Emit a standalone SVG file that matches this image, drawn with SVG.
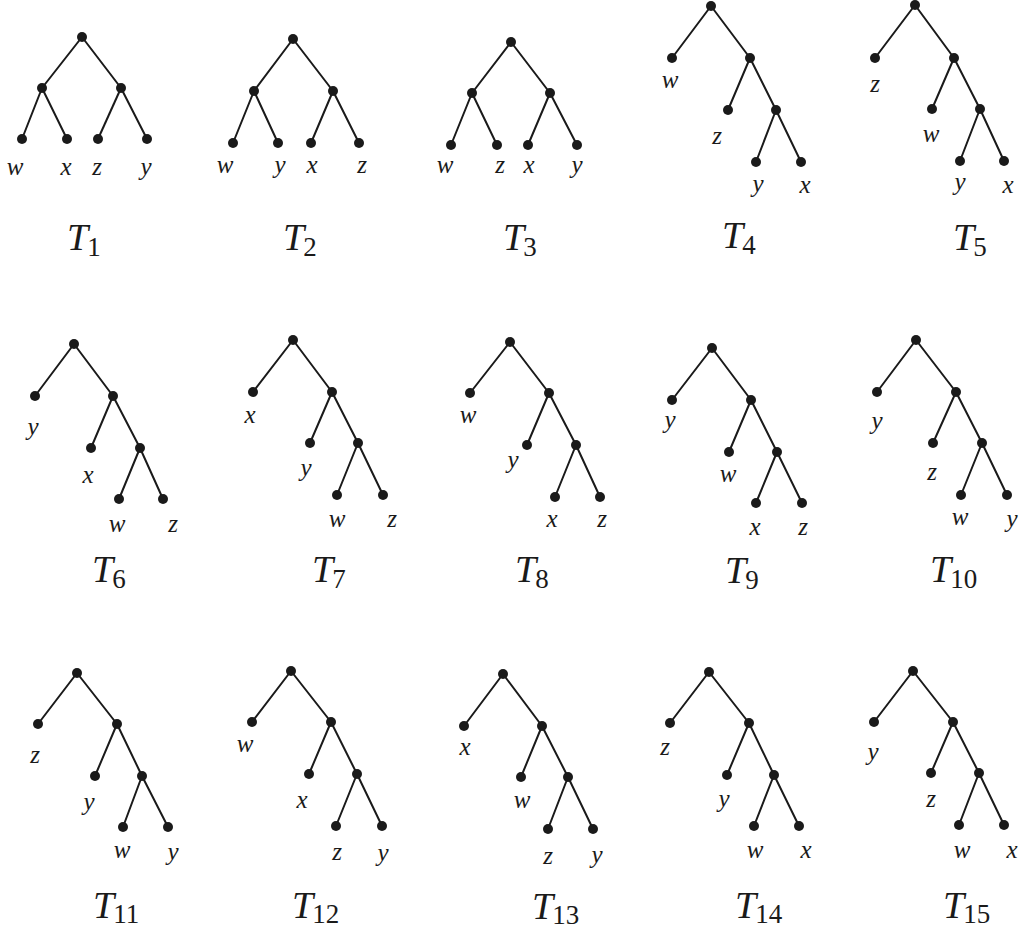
<svg xmlns="http://www.w3.org/2000/svg" width="1021" height="930" viewBox="0 0 1021 930">
<style>
.e line{stroke:#1a1a1a;stroke-width:2;stroke-linecap:round}
circle{fill:#1a1a1a}
.lb{font-family:'Liberation Serif','DejaVu Serif','Times New Roman',serif;font-style:italic;font-size:25px;fill:#1a1a1a;text-anchor:middle}
.tt{font-family:'Liberation Serif','DejaVu Serif','Times New Roman',serif;font-size:38px;fill:#1a1a1a}
.tt .T{font-style:italic}
.tt .s{font-size:27px;font-style:normal}
</style>
<rect width="1021" height="930" fill="#fff"/>
<g id="connectors" class="e">
<g id="T1-edges"><line x1="82" y1="37" x2="42" y2="88"/><line x1="82" y1="37" x2="121" y2="88"/><line x1="42" y1="88" x2="22" y2="139"/><line x1="42" y1="88" x2="67" y2="139"/><line x1="121" y1="88" x2="98" y2="139"/><line x1="121" y1="88" x2="147" y2="139"/></g>
<g id="T2-edges"><line x1="293" y1="39" x2="254" y2="91"/><line x1="293" y1="39" x2="333" y2="91"/><line x1="254" y1="91" x2="233" y2="143"/><line x1="254" y1="91" x2="278" y2="143"/><line x1="333" y1="91" x2="311" y2="143"/><line x1="333" y1="91" x2="359" y2="143"/></g>
<g id="T3-edges"><line x1="511" y1="42" x2="472" y2="93"/><line x1="511" y1="42" x2="550" y2="93"/><line x1="472" y1="93" x2="451" y2="145"/><line x1="472" y1="93" x2="497" y2="145"/><line x1="550" y1="93" x2="528" y2="145"/><line x1="550" y1="93" x2="577" y2="145"/></g>
<g id="T4-edges"><line x1="711" y1="6" x2="672" y2="58"/><line x1="711" y1="6" x2="750" y2="58"/><line x1="750" y1="58" x2="728" y2="110"/><line x1="750" y1="58" x2="776" y2="110"/><line x1="776" y1="110" x2="756" y2="162"/><line x1="776" y1="110" x2="801" y2="162"/></g>
<g id="T5-edges"><line x1="915" y1="5" x2="875" y2="58"/><line x1="915" y1="5" x2="954" y2="58"/><line x1="954" y1="58" x2="932" y2="109"/><line x1="954" y1="58" x2="980" y2="109"/><line x1="980" y1="109" x2="960" y2="161"/><line x1="980" y1="109" x2="1004" y2="161"/></g>
<g id="T6-edges"><line x1="74" y1="344" x2="35" y2="396"/><line x1="74" y1="344" x2="113" y2="396"/><line x1="113" y1="396" x2="91" y2="448"/><line x1="113" y1="396" x2="140" y2="448"/><line x1="140" y1="448" x2="119" y2="499"/><line x1="140" y1="448" x2="163" y2="499"/></g>
<g id="T7-edges"><line x1="293" y1="340" x2="253" y2="392"/><line x1="293" y1="340" x2="332" y2="392"/><line x1="332" y1="392" x2="310" y2="443"/><line x1="332" y1="392" x2="358" y2="443"/><line x1="358" y1="443" x2="337" y2="495"/><line x1="358" y1="443" x2="383" y2="495"/></g>
<g id="T8-edges"><line x1="510" y1="342" x2="470" y2="393"/><line x1="510" y1="342" x2="549" y2="393"/><line x1="549" y1="393" x2="527" y2="445"/><line x1="549" y1="393" x2="576" y2="445"/><line x1="576" y1="445" x2="555" y2="497"/><line x1="576" y1="445" x2="600" y2="497"/></g>
<g id="T9-edges"><line x1="712" y1="348" x2="672" y2="400"/><line x1="712" y1="348" x2="751" y2="400"/><line x1="751" y1="400" x2="729" y2="452"/><line x1="751" y1="400" x2="777" y2="452"/><line x1="777" y1="452" x2="756" y2="503"/><line x1="777" y1="452" x2="802" y2="503"/></g>
<g id="T10-edges"><line x1="916" y1="340" x2="877" y2="392"/><line x1="916" y1="340" x2="956" y2="392"/><line x1="956" y1="392" x2="933" y2="443"/><line x1="956" y1="392" x2="982" y2="443"/><line x1="982" y1="443" x2="961" y2="495"/><line x1="982" y1="443" x2="1007" y2="495"/></g>
<g id="T11-edges"><line x1="77" y1="673" x2="38" y2="724"/><line x1="77" y1="673" x2="117" y2="724"/><line x1="117" y1="724" x2="95" y2="776"/><line x1="117" y1="724" x2="142" y2="776"/><line x1="142" y1="776" x2="123" y2="827"/><line x1="142" y1="776" x2="168" y2="827"/></g>
<g id="T12-edges"><line x1="291" y1="671" x2="252" y2="722"/><line x1="291" y1="671" x2="331" y2="722"/><line x1="331" y1="722" x2="309" y2="774"/><line x1="331" y1="722" x2="357" y2="774"/><line x1="357" y1="774" x2="336" y2="826"/><line x1="357" y1="774" x2="382" y2="826"/></g>
<g id="T13-edges"><line x1="503" y1="674" x2="464" y2="726"/><line x1="503" y1="674" x2="542" y2="726"/><line x1="542" y1="726" x2="521" y2="777"/><line x1="542" y1="726" x2="568" y2="777"/><line x1="568" y1="777" x2="548" y2="829"/><line x1="568" y1="777" x2="593" y2="829"/></g>
<g id="T14-edges"><line x1="709" y1="672" x2="670" y2="723"/><line x1="709" y1="672" x2="749" y2="723"/><line x1="749" y1="723" x2="727" y2="775"/><line x1="749" y1="723" x2="774" y2="775"/><line x1="774" y1="775" x2="754" y2="826"/><line x1="774" y1="775" x2="799" y2="826"/></g>
<g id="T15-edges"><line x1="913" y1="671" x2="874" y2="722"/><line x1="913" y1="671" x2="953" y2="722"/><line x1="953" y1="722" x2="931" y2="773"/><line x1="953" y1="722" x2="979" y2="773"/><line x1="979" y1="773" x2="959" y2="825"/><line x1="979" y1="773" x2="1004" y2="825"/></g>
</g>

<g id="T1">
<g id="T1-root"><circle cx="82" cy="37" r="5"/></g>
<g id="T1-a"><circle cx="42" cy="88" r="5"/></g>
<g id="T1-b"><circle cx="121" cy="88" r="5"/></g>
<g id="T1-w"><circle cx="22" cy="139" r="5"/><text class="lb" x="15" y="175">w</text></g>
<g id="T1-x"><circle cx="67" cy="139" r="5"/><text class="lb" x="66" y="175">x</text></g>
<g id="T1-z"><circle cx="98" cy="139" r="5"/><text class="lb" x="97" y="175">z</text></g>
<g id="T1-y"><circle cx="147" cy="139" r="5"/><text class="lb" x="146" y="175">y</text></g>
<text class="tt" x="67" y="250"><tspan class="T">T</tspan><tspan class="s" dx="-1" dy="6">1</tspan></text>
</g>

<g id="T2">
<g id="T2-root"><circle cx="293" cy="39" r="5"/></g>
<g id="T2-a"><circle cx="254" cy="91" r="5"/></g>
<g id="T2-b"><circle cx="333" cy="91" r="5"/></g>
<g id="T2-w"><circle cx="233" cy="143" r="5"/><text class="lb" x="225" y="173">w</text></g>
<g id="T2-y"><circle cx="278" cy="143" r="5"/><text class="lb" x="280" y="173">y</text></g>
<g id="T2-x"><circle cx="311" cy="143" r="5"/><text class="lb" x="312" y="173">x</text></g>
<g id="T2-z"><circle cx="359" cy="143" r="5"/><text class="lb" x="362" y="173">z</text></g>
<text class="tt" x="283" y="250"><tspan class="T">T</tspan><tspan class="s" dx="-1" dy="6">2</tspan></text>
</g>

<g id="T3">
<g id="T3-root"><circle cx="511" cy="42" r="5"/></g>
<g id="T3-a"><circle cx="472" cy="93" r="5"/></g>
<g id="T3-b"><circle cx="550" cy="93" r="5"/></g>
<g id="T3-w"><circle cx="451" cy="145" r="5"/><text class="lb" x="445" y="173">w</text></g>
<g id="T3-z"><circle cx="497" cy="145" r="5"/><text class="lb" x="500" y="173">z</text></g>
<g id="T3-x"><circle cx="528" cy="145" r="5"/><text class="lb" x="529" y="173">x</text></g>
<g id="T3-y"><circle cx="577" cy="145" r="5"/><text class="lb" x="577" y="173">y</text></g>
<text class="tt" x="503" y="250"><tspan class="T">T</tspan><tspan class="s" dx="-1" dy="6">3</tspan></text>
</g>

<g id="T4">
<g id="T4-root"><circle cx="711" cy="6" r="5"/></g>
<g id="T4-i1"><circle cx="750" cy="58" r="5"/></g>
<g id="T4-i2"><circle cx="776" cy="110" r="5"/></g>
<g id="T4-w"><circle cx="672" cy="58" r="5"/><text class="lb" x="670" y="88">w</text></g>
<g id="T4-z"><circle cx="728" cy="110" r="5"/><text class="lb" x="717" y="144">z</text></g>
<g id="T4-y"><circle cx="756" cy="162" r="5"/><text class="lb" x="758" y="192">y</text></g>
<g id="T4-x"><circle cx="801" cy="162" r="5"/><text class="lb" x="805" y="193">x</text></g>
<text class="tt" x="722" y="248"><tspan class="T">T</tspan><tspan class="s" dx="-1" dy="6">4</tspan></text>
</g>

<g id="T5">
<g id="T5-root"><circle cx="915" cy="5" r="5"/></g>
<g id="T5-i1"><circle cx="954" cy="58" r="5"/></g>
<g id="T5-i2"><circle cx="980" cy="109" r="5"/></g>
<g id="T5-z"><circle cx="875" cy="58" r="5"/><text class="lb" x="875" y="92">z</text></g>
<g id="T5-w"><circle cx="932" cy="109" r="5"/><text class="lb" x="931" y="142">w</text></g>
<g id="T5-y"><circle cx="960" cy="161" r="5"/><text class="lb" x="960" y="190">y</text></g>
<g id="T5-x"><circle cx="1004" cy="161" r="5"/><text class="lb" x="1008" y="193">x</text></g>
<text class="tt" x="953" y="250"><tspan class="T">T</tspan><tspan class="s" dx="-1" dy="6">5</tspan></text>
</g>

<g id="T6">
<g id="T6-root"><circle cx="74" cy="344" r="5"/></g>
<g id="T6-i1"><circle cx="113" cy="396" r="5"/></g>
<g id="T6-i2"><circle cx="140" cy="448" r="5"/></g>
<g id="T6-y"><circle cx="35" cy="396" r="5"/><text class="lb" x="33" y="435">y</text></g>
<g id="T6-x"><circle cx="91" cy="448" r="5"/><text class="lb" x="88" y="483">x</text></g>
<g id="T6-w"><circle cx="119" cy="499" r="5"/><text class="lb" x="117" y="532">w</text></g>
<g id="T6-z"><circle cx="163" cy="499" r="5"/><text class="lb" x="173" y="532">z</text></g>
<text class="tt" x="92" y="582"><tspan class="T">T</tspan><tspan class="s" dx="-1" dy="6">6</tspan></text>
</g>

<g id="T7">
<g id="T7-root"><circle cx="293" cy="340" r="5"/></g>
<g id="T7-i1"><circle cx="332" cy="392" r="5"/></g>
<g id="T7-i2"><circle cx="358" cy="443" r="5"/></g>
<g id="T7-x"><circle cx="253" cy="392" r="5"/><text class="lb" x="250" y="423">x</text></g>
<g id="T7-y"><circle cx="310" cy="443" r="5"/><text class="lb" x="306" y="476">y</text></g>
<g id="T7-w"><circle cx="337" cy="495" r="5"/><text class="lb" x="337" y="527">w</text></g>
<g id="T7-z"><circle cx="383" cy="495" r="5"/><text class="lb" x="392" y="527">z</text></g>
<text class="tt" x="312" y="582"><tspan class="T">T</tspan><tspan class="s" dx="-1" dy="6">7</tspan></text>
</g>

<g id="T8">
<g id="T8-root"><circle cx="510" cy="342" r="5"/></g>
<g id="T8-i1"><circle cx="549" cy="393" r="5"/></g>
<g id="T8-i2"><circle cx="576" cy="445" r="5"/></g>
<g id="T8-w"><circle cx="470" cy="393" r="5"/><text class="lb" x="468" y="423">w</text></g>
<g id="T8-y"><circle cx="527" cy="445" r="5"/><text class="lb" x="513" y="468">y</text></g>
<g id="T8-x"><circle cx="555" cy="497" r="5"/><text class="lb" x="552" y="527">x</text></g>
<g id="T8-z"><circle cx="600" cy="497" r="5"/><text class="lb" x="602" y="527">z</text></g>
<text class="tt" x="515" y="582"><tspan class="T">T</tspan><tspan class="s" dx="-1" dy="6">8</tspan></text>
</g>

<g id="T9">
<g id="T9-root"><circle cx="712" cy="348" r="5"/></g>
<g id="T9-i1"><circle cx="751" cy="400" r="5"/></g>
<g id="T9-i2"><circle cx="777" cy="452" r="5"/></g>
<g id="T9-y"><circle cx="672" cy="400" r="5"/><text class="lb" x="670" y="428">y</text></g>
<g id="T9-w"><circle cx="729" cy="452" r="5"/><text class="lb" x="728" y="482">w</text></g>
<g id="T9-x"><circle cx="756" cy="503" r="5"/><text class="lb" x="755" y="535">x</text></g>
<g id="T9-z"><circle cx="802" cy="503" r="5"/><text class="lb" x="803" y="535">z</text></g>
<text class="tt" x="725" y="583"><tspan class="T">T</tspan><tspan class="s" dx="-1" dy="6">9</tspan></text>
</g>

<g id="T10">
<g id="T10-root"><circle cx="916" cy="340" r="5"/></g>
<g id="T10-i1"><circle cx="956" cy="392" r="5"/></g>
<g id="T10-i2"><circle cx="982" cy="443" r="5"/></g>
<g id="T10-y1"><circle cx="877" cy="392" r="5"/><text class="lb" x="877" y="429">y</text></g>
<g id="T10-z"><circle cx="933" cy="443" r="5"/><text class="lb" x="932" y="480">z</text></g>
<g id="T10-w"><circle cx="961" cy="495" r="5"/><text class="lb" x="960" y="525">w</text></g>
<g id="T10-y2"><circle cx="1007" cy="495" r="5"/><text class="lb" x="1012" y="527">y</text></g>
<text class="tt" x="930" y="582"><tspan class="T">T</tspan><tspan class="s" dx="-1" dy="6">10</tspan></text>
</g>

<g id="T11">
<g id="T11-root"><circle cx="77" cy="673" r="5"/></g>
<g id="T11-i1"><circle cx="117" cy="724" r="5"/></g>
<g id="T11-i2"><circle cx="142" cy="776" r="5"/></g>
<g id="T11-z"><circle cx="38" cy="724" r="5"/><text class="lb" x="35" y="763">z</text></g>
<g id="T11-y1"><circle cx="95" cy="776" r="5"/><text class="lb" x="89" y="810">y</text></g>
<g id="T11-w"><circle cx="123" cy="827" r="5"/><text class="lb" x="122" y="858">w</text></g>
<g id="T11-y2"><circle cx="168" cy="827" r="5"/><text class="lb" x="173" y="860">y</text></g>
<text class="tt" x="93" y="918"><tspan class="T">T</tspan><tspan class="s" dx="-1" dy="5">11</tspan></text>
</g>

<g id="T12">
<g id="T12-root"><circle cx="291" cy="671" r="5"/></g>
<g id="T12-i1"><circle cx="331" cy="722" r="5"/></g>
<g id="T12-i2"><circle cx="357" cy="774" r="5"/></g>
<g id="T12-w"><circle cx="252" cy="722" r="5"/><text class="lb" x="245" y="752">w</text></g>
<g id="T12-x"><circle cx="309" cy="774" r="5"/><text class="lb" x="302" y="808">x</text></g>
<g id="T12-z"><circle cx="336" cy="826" r="5"/><text class="lb" x="337" y="860">z</text></g>
<g id="T12-y"><circle cx="382" cy="826" r="5"/><text class="lb" x="383" y="861">y</text></g>
<text class="tt" x="292" y="918"><tspan class="T">T</tspan><tspan class="s" dx="-1" dy="5">12</tspan></text>
</g>

<g id="T13">
<g id="T13-root"><circle cx="503" cy="674" r="5"/></g>
<g id="T13-i1"><circle cx="542" cy="726" r="5"/></g>
<g id="T13-i2"><circle cx="568" cy="777" r="5"/></g>
<g id="T13-x"><circle cx="464" cy="726" r="5"/><text class="lb" x="465" y="755">x</text></g>
<g id="T13-w"><circle cx="521" cy="777" r="5"/><text class="lb" x="522" y="808">w</text></g>
<g id="T13-z"><circle cx="548" cy="829" r="5"/><text class="lb" x="548" y="864">z</text></g>
<g id="T13-y"><circle cx="593" cy="829" r="5"/><text class="lb" x="597" y="863">y</text></g>
<text class="tt" x="532" y="919"><tspan class="T">T</tspan><tspan class="s" dx="-1" dy="5">13</tspan></text>
</g>

<g id="T14">
<g id="T14-root"><circle cx="709" cy="672" r="5"/></g>
<g id="T14-i1"><circle cx="749" cy="723" r="5"/></g>
<g id="T14-i2"><circle cx="774" cy="775" r="5"/></g>
<g id="T14-z"><circle cx="670" cy="723" r="5"/><text class="lb" x="665" y="755">z</text></g>
<g id="T14-y"><circle cx="727" cy="775" r="5"/><text class="lb" x="724" y="807">y</text></g>
<g id="T14-w"><circle cx="754" cy="826" r="5"/><text class="lb" x="755" y="858">w</text></g>
<g id="T14-x"><circle cx="799" cy="826" r="5"/><text class="lb" x="806" y="858">x</text></g>
<text class="tt" x="735" y="918"><tspan class="T">T</tspan><tspan class="s" dx="-1" dy="5">14</tspan></text>
</g>

<g id="T15">
<g id="T15-root"><circle cx="913" cy="671" r="5"/></g>
<g id="T15-i1"><circle cx="953" cy="722" r="5"/></g>
<g id="T15-i2"><circle cx="979" cy="773" r="5"/></g>
<g id="T15-y"><circle cx="874" cy="722" r="5"/><text class="lb" x="873" y="760">y</text></g>
<g id="T15-z"><circle cx="931" cy="773" r="5"/><text class="lb" x="931" y="807">z</text></g>
<g id="T15-w"><circle cx="959" cy="825" r="5"/><text class="lb" x="962" y="858">w</text></g>
<g id="T15-x"><circle cx="1004" cy="825" r="5"/><text class="lb" x="1012" y="858">x</text></g>
<text class="tt" x="943" y="918"><tspan class="T">T</tspan><tspan class="s" dx="-1" dy="5">15</tspan></text>
</g>
</svg>
